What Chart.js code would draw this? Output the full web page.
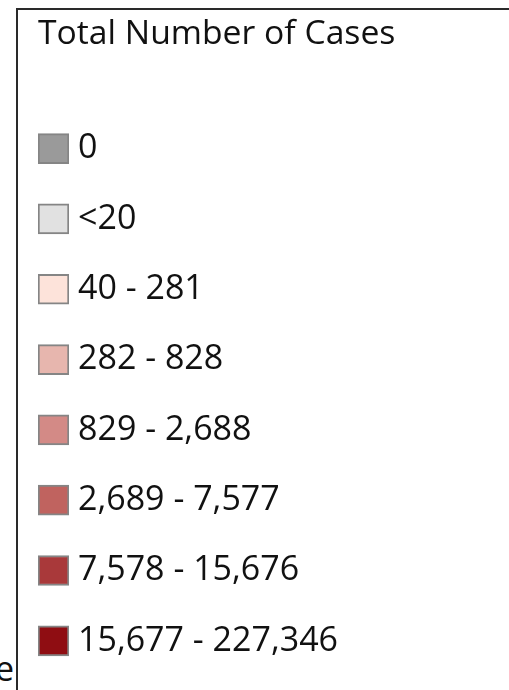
<!DOCTYPE html>
<html>
<head>
<meta charset="utf-8">
<script src="https://cdn.jsdelivr.net/npm/chart.js@4.4.1/dist/chart.umd.min.js"></script>
<style>
  html, body { margin: 0; padding: 0; background: #fff; overflow: hidden; }
  #wrap { position: relative; width: 509px; height: 690px; }
  #frame { position: absolute; left: 16px; top: 8px; width: 600px; height: 800px;
           border: 2px solid #2a2a2a; box-sizing: border-box; }
  #cut { position: absolute; left: -5px; top: 648px; font-family: 'Open Sans'; font-size: 34px;
         color: #111; line-height: 40px; }
  #legendChart { position: absolute; left: 0; top: 0; }
</style>
</head>
<body>
<div id="wrap">
  <div id="frame"></div>
  <span id="cut">e</span>
  <canvas id="legendChart" width="509" height="690"></canvas>
</div>
<script>
var TITLE = 'Total Number of Cases'

// legend classes, top to bottom
var classes = ['0', '<20', '40 - 281', '282 - 828', '829 - 2,688',
               '2,689 - 7,577', '7,578 - 15,676', '15,677 - 227,346']
var swatch = [1, 1, 1, 1, 1, 1, 1, 1]
var colours = ['#9a9a9a', '#e1e1e1', '#fde3da', '#e7b6ae', '#d38a86',
               '#c0635f', '#a9393a', '#8f0d12']

var data = {
    labels: classes,
    datasets: [{
        data: swatch,
        backgroundColor: colours,
        borderColor: '#858585',
        borderWidth: 2,
        borderSkipped: false,
        barThickness: 30
    }]
}

let canvas = document.getElementById('legendChart')

let config = {
    type: 'bar',
    data: data,
    options: {
        indexAxis: 'y',
        responsive: false,
        animation: false,
        devicePixelRatio: 1,
        layout: {
            padding: { left: 38, right: 0, top: 0, bottom: 14 }
        },
        plugins: {
            legend: { display: false },
            tooltip: { enabled: false },
            title: {
                display: true,
                text: TITLE,
                align: 'start',
                color: '#111',
                font: { family: 'Open Sans', size: 33.7, weight: 'normal' },
                padding: { top: 14, bottom: 59 }
            }
        },
        scales: {
            x: {
                display: false,
                min: 0,
                max: 1
            },
            y: {
                position: 'right',
                border: { display: false },
                grid: { display: false, drawTicks: false },
                ticks: {
                    autoSkip: false,
                    padding: 9,
                    color: '#111',
                    font: { family: 'Open Sans', size: 34 }
                },
                afterFit: (scale) => {
                    // swatch column 38..69, labels take the rest
                    scale.width = 509 - 69
                    scale.paddingTop = 0
                    scale.paddingBottom = 0
                }
            }
        }
    }
};

var LegendChart = new Chart(
    canvas,
    config
);
</script>
</body>
</html>
